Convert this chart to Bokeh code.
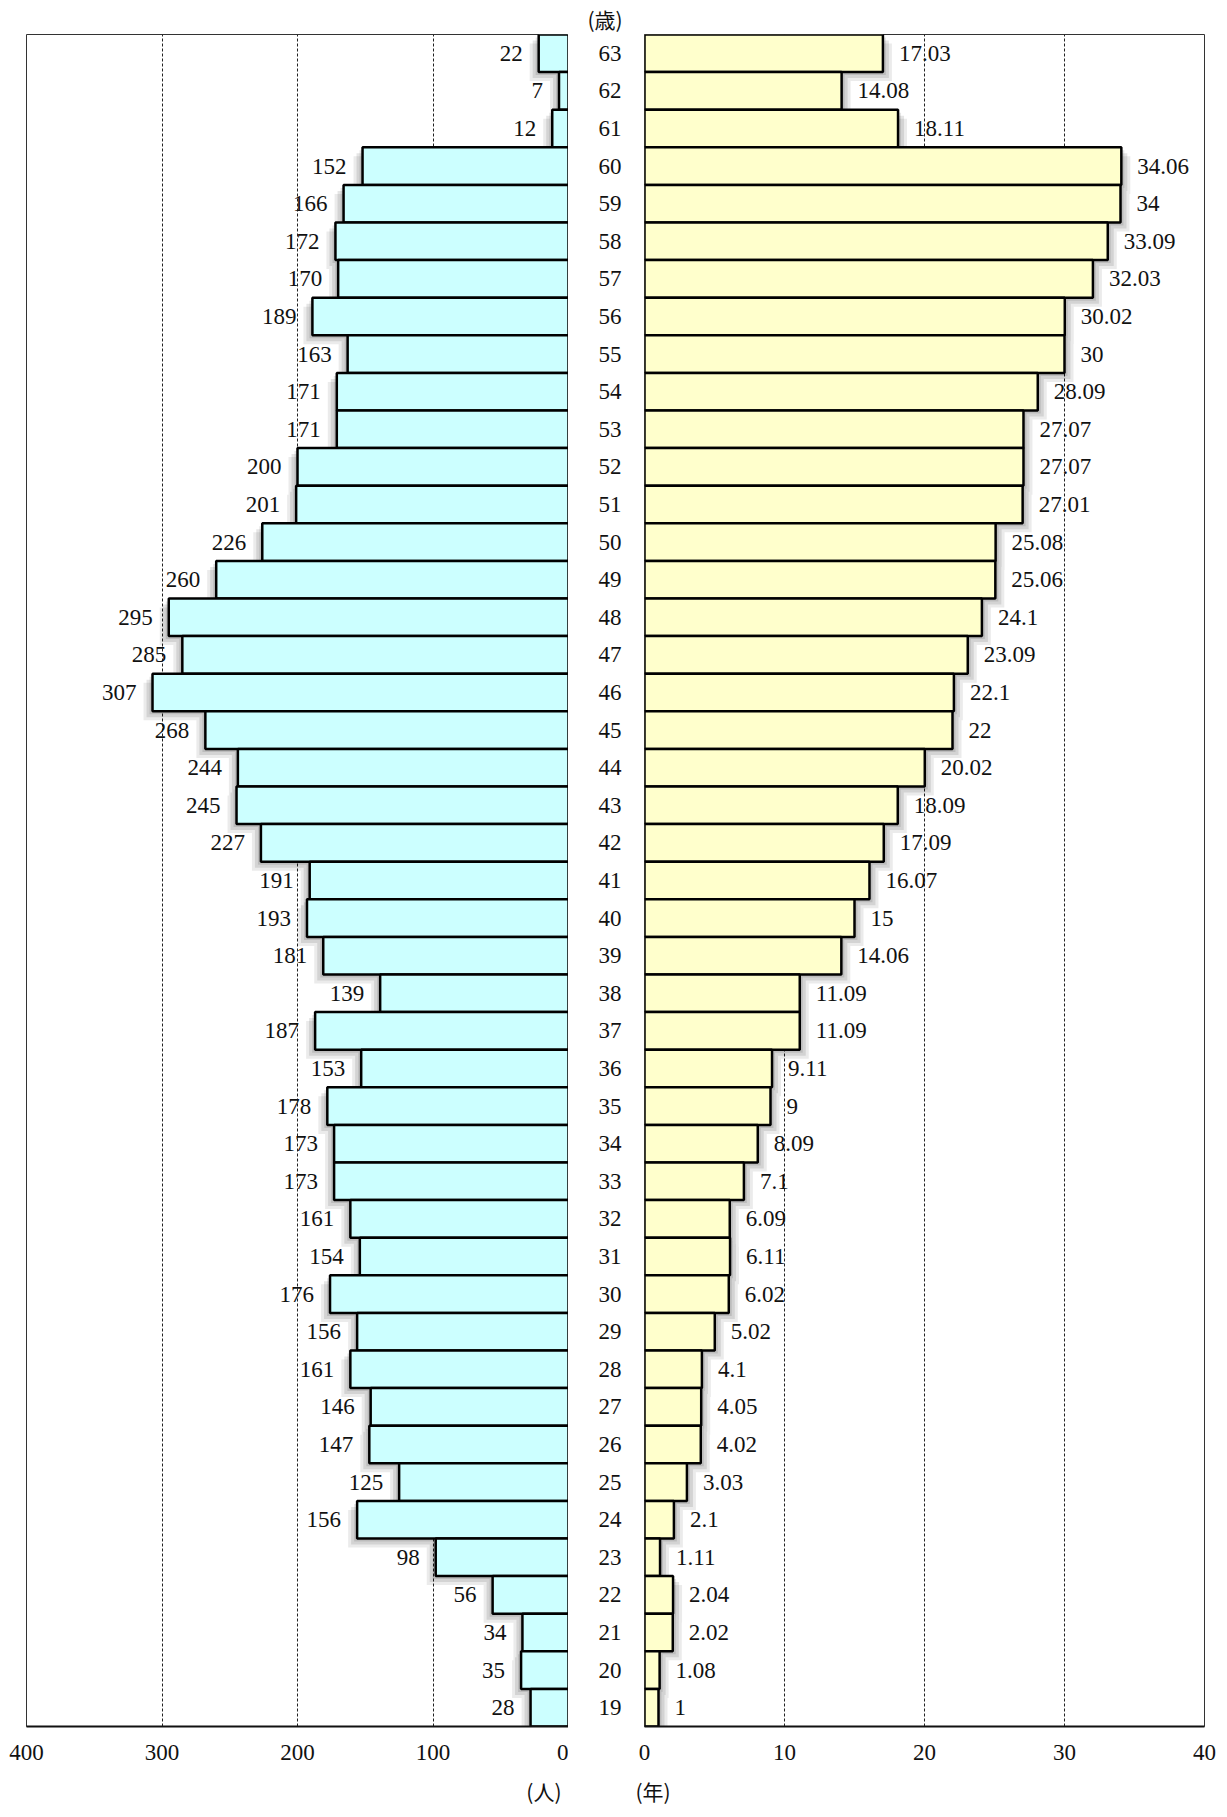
from bokeh.plotting import figure
from bokeh.models import Range1d, FixedTicker, ColumnDataSource, Title
from bokeh.layouts import row
from bokeh.core.properties import value
from bokeh.embed import file_html
from bokeh.resources import INLINE

ages = list(range(63, 18, -1))
counts = [22, 7, 12, 152, 166, 172, 170, 189, 163, 171, 171, 200, 201, 226, 260,
          295, 285, 307, 268, 244, 245, 227, 191, 193, 181, 139, 187, 153, 178, 173,
          173, 161, 154, 176, 156, 161, 146, 147, 125, 156, 98, 56, 34, 35, 28]
years_text = ["17.03", "14.08", "18.11", "34.06", "34", "33.09", "32.03", "30.02", "30",
              "28.09", "27.07", "27.07", "27.01", "25.08", "25.06", "24.1", "23.09", "22.1",
              "22", "20.02", "18.09", "17.09", "16.07", "15", "14.06", "11.09", "11.09",
              "9.11", "9", "8.09", "7.1", "6.09", "6.11", "6.02", "5.02", "4.1", "4.05",
              "4.02", "3.03", "2.1", "1.11", "2.04", "2.02", "1.08", "1"]
years = [float(t) for t in years_text]
left_ticks = [0, 100, 200, 300, 400]
right_ticks = [0, 10, 20, 30, 40]
unit_left = "(人)"
unit_right = "(年)"
unit_age = "(歳)"

NUM_FONT = "Liberation Serif"
CJK_FONT = "Noto Sans CJK JP"
FS = "23px"
UFS = "21px"
H = 1816
TOP, BOTTOM = 34, 88
FRAME_H = H - TOP - BOTTOM
PX_Y = 45.0 / FRAME_H

src = ColumnDataSource(dict(age=ages, count=counts, years=years,
                            count_txt=[str(c) for c in counts], years_txt=years_text))


def style(p):
    p.toolbar_location = None
    p.outline_line_color = "#333333"
    p.outline_line_width = 1
    p.ygrid.visible = False
    p.xgrid.grid_line_color = "#222222"
    p.xgrid.grid_line_dash = "3 2"
    p.xgrid.grid_line_width = 1
    p.xaxis.axis_line_color = "#111111"
    p.xaxis.axis_line_width = 2
    p.xaxis.major_tick_line_color = None
    p.xaxis.minor_tick_line_color = None
    p.xaxis.major_label_text_font = NUM_FONT
    p.xaxis.major_label_text_font_size = FS
    p.xaxis.major_label_text_color = "#111111"
    p.xaxis.major_label_standoff = 12
    p.background_fill_color = "white"
    p.border_fill_color = "white"


def unit_title(text, align, offset, standoff):
    return Title(text=text, align=align, offset=offset, standoff=standoff,
                 text_font=CJK_FONT, text_font_size=UFS, text_font_style="normal",
                 text_color="#111111")


# ---------------- left panel (people) ----------------
LB_L = 26
LW = 568
left = figure(width=LW, height=H, output_backend="svg", toolbar_location=None,
              x_range=Range1d(400, 0), y_range=Range1d(18.5, 63.5),
              min_border_left=LB_L, min_border_right=0, min_border_top=TOP,
              min_border_bottom=BOTTOM)
style(left)
left.yaxis.visible = False
left.xaxis.ticker = FixedTicker(ticks=left_ticks)
left.xgrid.ticker = FixedTicker(ticks=[100, 200, 300])
pxl = 400.0 / (LW - LB_L)

for k, a in [(3, 0.10), (6, 0.10), (9, 0.08)]:
    left.quad(left=[c + k * pxl for c in counts], right=[0] * len(counts),
              top=[y + 0.5 - k * PX_Y for y in ages], bottom=[y - 0.5 - k * PX_Y for y in ages],
              fill_color="black", fill_alpha=a, line_color=None)
left.hbar(y="age", right="count", left=0, height=1.0, source=src,
          fill_color="#CCFFFF", line_color="black", line_width=2.5)
left.text(x="count", y="age", text="count_txt", source=src, x_offset=-16,
          text_align="right", text_baseline="middle",
          text_font=value(NUM_FONT), text_font_size=FS, text_color="#111111")
left.add_layout(unit_title(unit_left, "right", 7, 22), "below")
left.add_layout(unit_title(" ", "left", 0, 1), "above")

# ---------------- right panel (years) ----------------
RB_L = 76
RB_R = 23
RW = RB_L + 560 + RB_R
right = figure(width=RW, height=H, output_backend="svg", toolbar_location=None,
               x_range=Range1d(0, 40), y_range=Range1d(18.5, 63.5),
               min_border_left=RB_L, min_border_right=RB_R, min_border_top=TOP,
               min_border_bottom=BOTTOM)
style(right)
right.xaxis.ticker = FixedTicker(ticks=right_ticks)
right.xgrid.ticker = FixedTicker(ticks=[10, 20, 30])
right.yaxis.ticker = FixedTicker(ticks=ages)
right.yaxis.axis_line_color = None
right.yaxis.major_tick_line_color = None
right.yaxis.minor_tick_line_color = None
right.yaxis.major_label_standoff = 17
right.yaxis.major_label_text_font = NUM_FONT
right.yaxis.major_label_text_font_size = FS
right.yaxis.major_label_text_color = "#111111"
pxr = 40.0 / 560

for k, a in [(3, 0.10), (6, 0.10), (9, 0.08)]:
    right.quad(left=[0] * len(years), right=[v + k * pxr for v in years],
               top=[y + 0.5 - k * PX_Y for y in ages], bottom=[y - 0.5 - k * PX_Y for y in ages],
               fill_color="black", fill_alpha=a, line_color=None)
right.hbar(y="age", right="years", left=0, height=1.0, source=src,
           fill_color="#FFFFCC", line_color="black", line_width=2.5)
right.text(x="years", y="age", text="years_txt", source=src, x_offset=16,
           text_align="left", text_baseline="middle",
           text_font=value(NUM_FONT), text_font_size=FS, text_color="#111111")
right.add_layout(unit_title(unit_right, "left", -9, 22), "below")
right.add_layout(unit_title(unit_age, "left", -57, 1), "above")

layout = row(left, right, spacing=0)
open("out.html", "w").write(file_html(layout, INLINE))
